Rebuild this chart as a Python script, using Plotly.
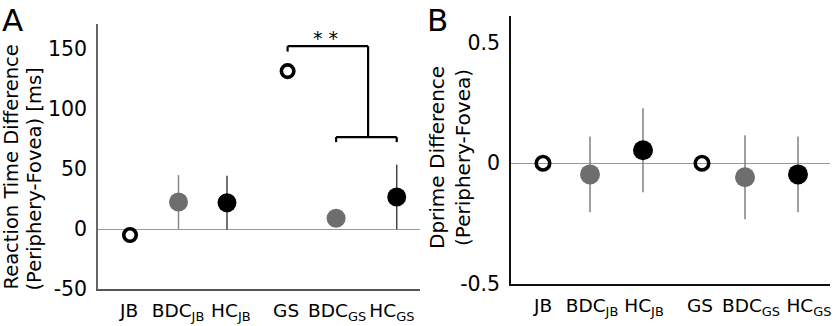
import plotly.graph_objects as go

# ---- data ----
categories = ["JB", "BDC<sub>JB</sub>", "HC<sub>JB</sub>", "GS", "BDC<sub>GS</sub>", "HC<sub>GS</sub>"]
groups = ["open", "gray", "black", "open", "gray", "black"]
rt_values = [-5, 22.5, 22, 131.7, 9, 26.7]
rt_errors = [0, 22.5, 22.5, 0, 0, 27]
dp_values = [0, -0.046, 0.054, 0, -0.058, -0.046]
dp_errors = [0, 0.157, 0.174, 0, 0.174, 0.157]
rt_ticks = [-50, 0, 50, 100, 150]
rt_ticktext = ["-50", "0", "50", "100", "150"]
dp_ticks = [-0.5, 0, 0.5]
dp_ticktext = ["-0.5", "0", "0.5"]

# ---- layout positions ----
pos_a = [1, 2, 3, 4.25, 5.25, 6.5]
label_pos_a = [0.98, 1.99, 3.08, 4.22, 5.27, 6.40]
pos_b = [1, 1.94, 3, 4.18, 5.04, 6.1]
label_pos_b = [1, 1.98, 3.02, 4.14, 5.16, 6.32]

W, H = 836, 326
FONT = "DejaVu Sans"

def make_styles(open_size, fill_size, err_colors):
    return {
        "open": dict(marker=dict(symbol="circle-open", size=open_size, color="black",
                                 line=dict(width=3.6, color="black")), err=err_colors[0]),
        "gray": dict(marker=dict(symbol="circle", size=fill_size, color="#6e6e6e", line=dict(width=0)),
                     err=err_colors[1]),
        "black": dict(marker=dict(symbol="circle", size=fill_size, color="black", line=dict(width=0)),
                      err=err_colors[2]),
    }

styles_a = make_styles(12.5, 19, ["#888888", "#8a8a8a", "#444444"])
styles_b = make_styles(13.5, 20, ["#888888", "#808080", "#808080"])

fig = go.Figure()

def add_panel(pos, vals, errs, xaxis, yaxis, styles):
    for g in ["open", "gray", "black"]:
        idx = [i for i, gg in enumerate(groups) if gg == g]
        st = styles[g]
        fig.add_trace(go.Scatter(
            x=[pos[i] for i in idx], y=[vals[i] for i in idx],
            mode="markers", marker=st["marker"],
            error_y=dict(type="data", array=[errs[i] for i in idx], visible=True,
                         color=st["err"], thickness=1.5, width=0),
            xaxis=xaxis, yaxis=yaxis, showlegend=False, hoverinfo="skip"))

add_panel(pos_a, rt_values, rt_errors, "x", "y", styles_a)
add_panel(pos_b, dp_values, dp_errors, "x2", "y2", styles_b)

def px_x(p):
    return p / W

def px_y(p):
    return 1 - p / H

xaxis_common = dict(showgrid=False, zeroline=False, ticks="", showline=True, linewidth=1.5,
                    tickfont=dict(family=FONT, size=18.5, color="black"), fixedrange=True,
                    ticklabelstandoff=4, tickangle=0, automargin=False)
yaxis_common = dict(showgrid=False, zeroline=True, zerolinecolor="#999999", zerolinewidth=1,
                    showline=True, linewidth=1.5, ticks="", ticklabelstandoff=5, automargin=False,
                    tickfont=dict(family=FONT, size=20.5, color="black"), fixedrange=True)

fig.update_layout(
    width=W, height=H, margin=dict(l=0, r=0, t=0, b=0, autoexpand=False),
    paper_bgcolor="white", plot_bgcolor="white",
    font=dict(family=FONT, color="black"),
    xaxis=dict(domain=[px_x(98), px_x(420)], range=[0.34, 6.98], tickvals=label_pos_a, ticktext=categories,
               anchor="y", linecolor="#555555", **xaxis_common),
    yaxis=dict(domain=[px_y(289), px_y(24)], range=[-50, 171], tickvals=rt_ticks, ticktext=rt_ticktext,
               anchor="x", linecolor="#666666", **yaxis_common),
    xaxis2=dict(domain=[px_x(511), px_x(830)], range=[0.36, 6.74], tickvals=label_pos_b, ticktext=categories,
                anchor="y2", linecolor="#111111", **xaxis_common),
    yaxis2=dict(domain=[px_y(284), px_y(16)], range=[-0.5, 0.61], tickvals=dp_ticks, ticktext=dp_ticktext,
                anchor="x2", linecolor="#111111", **yaxis_common),
)

# significance bracket (panel A)
br_top, br_tick_top, br_low, br_tick_low = 152.5, 148, 76.7, 72.5
br_mid_x = 5.91
line = dict(color="black", width=2.2)
for x0, y0, x1, y1 in [
    (pos_a[3], br_top, br_mid_x, br_top),
    (pos_a[3], br_top, pos_a[3], br_tick_top),
    (br_mid_x, br_top, br_mid_x, br_low),
    (pos_a[4], br_low, pos_a[5], br_low),
    (pos_a[4], br_low, pos_a[4], br_tick_low),
    (pos_a[5], br_low, pos_a[5], br_tick_low),
]:
    fig.add_shape(type="line", xref="x", yref="y", x0=x0, y0=y0, x1=x1, y1=y1, line=line)

fig.add_annotation(x=5.04, y=159, xref="x", yref="y", text="* *", showarrow=False,
                   font=dict(family=FONT, size=19, color="black"))

# panel letters
fig.add_annotation(x=0, y=1.0, xref="paper", yref="paper", text="A", showarrow=False,
                   xanchor="left", yanchor="top", font=dict(family=FONT, size=31, color="black"))
fig.add_annotation(x=px_x(425), y=1.0, xref="paper", yref="paper", text="B", showarrow=False,
                   xanchor="left", yanchor="top", font=dict(family=FONT, size=31, color="black"))

# axis titles
for xp, yp, txt, sz in [
    (11, 292, "Reaction Time Difference", 19.5),
    (34, 293, "(Periphery-Fovea) [ms]", 19.5),
]:
    fig.add_annotation(x=px_x(xp), y=px_y(yp), xref="paper", yref="paper", text=txt, textangle=-90,
                       showarrow=False, xanchor="center", yanchor="bottom",
                       font=dict(family=FONT, size=sz, color="black"))
for xp, txt in [
    (437, "Dprime Difference"),
    (463, "(Periphery-Fovea)"),
]:
    fig.add_annotation(x=px_x(xp), y=px_y(158), xref="paper", yref="paper", text=txt, textangle=-90,
                       showarrow=False, xanchor="center", yanchor="middle",
                       font=dict(family=FONT, size=20, color="black"))

fig.write_html("out.html")
